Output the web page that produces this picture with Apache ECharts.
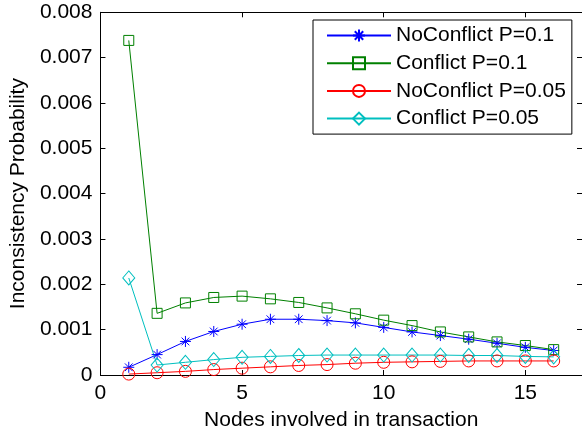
<!DOCTYPE html>
<html>
<head>
<meta charset="utf-8">
<script src="https://cdn.jsdelivr.net/npm/echarts@6/dist/echarts.min.js"></script>
<style>
  html, body { margin: 0; padding: 0; background: #fff; }
  #chart { width: 582px; height: 436px; }
</style>
</head>
<body>
<div id="chart"></div>
<script>
// Number of nodes involved in a transaction
const nodes = [1, 2, 3, 4, 5, 6, 7, 8, 9, 10, 11, 12, 13, 14, 15, 16];

// Inconsistency probability per configuration
const noConflictP01 = [0.00017, 0.00045, 0.00074, 0.00096, 0.00112, 0.00123, 0.00123, 0.00120,
                       0.00115, 0.00105, 0.00095, 0.00087, 0.00079, 0.00070, 0.00061, 0.00054];
const conflictP01   = [0.00738, 0.00136, 0.00159, 0.00171, 0.00174, 0.00168, 0.00160, 0.00148,
                       0.00135, 0.00121, 0.00109, 0.00095, 0.00084, 0.00073, 0.00065, 0.00056];
const noConflictP005 = [0.00002, 0.00005, 0.00008, 0.00012, 0.00015, 0.00018, 0.00021, 0.00023,
                        0.00026, 0.00028, 0.00029, 0.00030, 0.00031, 0.00031, 0.00031, 0.00031];
const conflictP005   = [0.00214, 0.00022, 0.00028, 0.00034, 0.00039, 0.00041, 0.00043, 0.00044,
                        0.00044, 0.00044, 0.00044, 0.00044, 0.00043, 0.00043, 0.00041, 0.00040];

const seriesNames = ['NoConflict P=0.1', 'Conflict P=0.1', 'NoConflict P=0.05', 'Conflict P=0.05'];

// Axis ranges and tick steps
const xMin = 0, xMax = 17, xStep = 5;
const yMin = 0, yMax = 0.008, yStep = 0.001;

const FONT = "'Liberation Sans', Arial, Helvetica, sans-serif";
const asterisk = 'path://M0,5L10,5M5,0L5,10M1.5,1.5L8.5,8.5M1.5,8.5L8.5,1.5';

function pairs(ys) {
  return nodes.map((x, i) => [x, ys[i]]);
}

function lineSeries(name, ys, color, symbol, size) {
  return {
    name: name,
    type: 'line',
    data: pairs(ys),
    symbol: symbol,
    symbolSize: size,
    showAllSymbol: true,
    animation: false,
    lineStyle: { color: color, width: 1 },
    itemStyle: { color: 'rgba(0,0,0,0)', borderColor: color, borderWidth: 1 },
    emphasis: { disabled: true }
  };
}

const axisCommon = {
  axisLine: { show: true, onZero: false, lineStyle: { color: '#000', width: 1 } },
  axisTick: { show: true, inside: true, length: 5, lineStyle: { color: '#000', width: 1 } },
  splitLine: { show: false }
};

const chart = echarts.init(document.getElementById('chart'), null, { renderer: 'canvas' });

chart.setOption({
  backgroundColor: '#fff',
  animation: false,
  textStyle: { fontFamily: FONT },
  grid: { left: 98.5, top: 12.3, width: 487, height: 365.7, containLabel: false },
  xAxis: [
    Object.assign({
      type: 'value', position: 'bottom', min: xMin, max: xMax, interval: xStep,
      name: 'Nodes involved in transaction', nameLocation: 'middle', nameGap: 35,
      nameTextStyle: { fontSize: 21, color: '#000', fontFamily: FONT },
      axisLabel: { fontSize: 21, color: '#000', margin: 8, fontFamily: FONT, showMaxLabel: false }
    }, axisCommon),
    Object.assign({
      type: 'value', position: 'top', min: xMin, max: xMax, interval: xStep,
      axisLabel: { show: false }
    }, axisCommon)
  ],
  yAxis: [
    Object.assign({
      type: 'value', position: 'left', min: yMin, max: yMax, interval: yStep,
      name: 'Inconsistency Probability', nameLocation: 'middle', nameGap: 70,
      nameTextStyle: { fontSize: 21, color: '#000', fontFamily: FONT },
      axisLabel: {
        fontSize: 21, color: '#000', margin: 8, fontFamily: FONT,
        formatter: v => (v === 0 ? '0' : v.toFixed(3))
      }
    }, axisCommon),
    Object.assign({
      type: 'value', position: 'right', min: yMin, max: yMax, interval: yStep,
      axisLabel: { show: false }
    }, axisCommon)
  ],
  legend: {
    show: true,
    orient: 'vertical',
    left: 313,
    top: 20,
    data: seriesNames,
    backgroundColor: '#fff',
    borderColor: '#000',
    borderWidth: 1,
    borderRadius: 0,
    padding: [5, 6, 5, 13],
    itemWidth: 64,
    itemHeight: 15,
    itemGap: 6.7,
    selectedMode: false,
    textStyle: { fontSize: 21, color: '#000', fontFamily: FONT, lineHeight: 20 }
  },
  series: [
    lineSeries(seriesNames[0], noConflictP01, '#0000ff', asterisk, 11),
    lineSeries(seriesNames[1], conflictP01, '#008000', 'rect', 10),
    lineSeries(seriesNames[2], noConflictP005, '#ff0000', 'circle', 12),
    lineSeries(seriesNames[3], conflictP005, '#00bfbf', 'diamond', [12, 14])
  ]
});
</script>
</body>
</html>
